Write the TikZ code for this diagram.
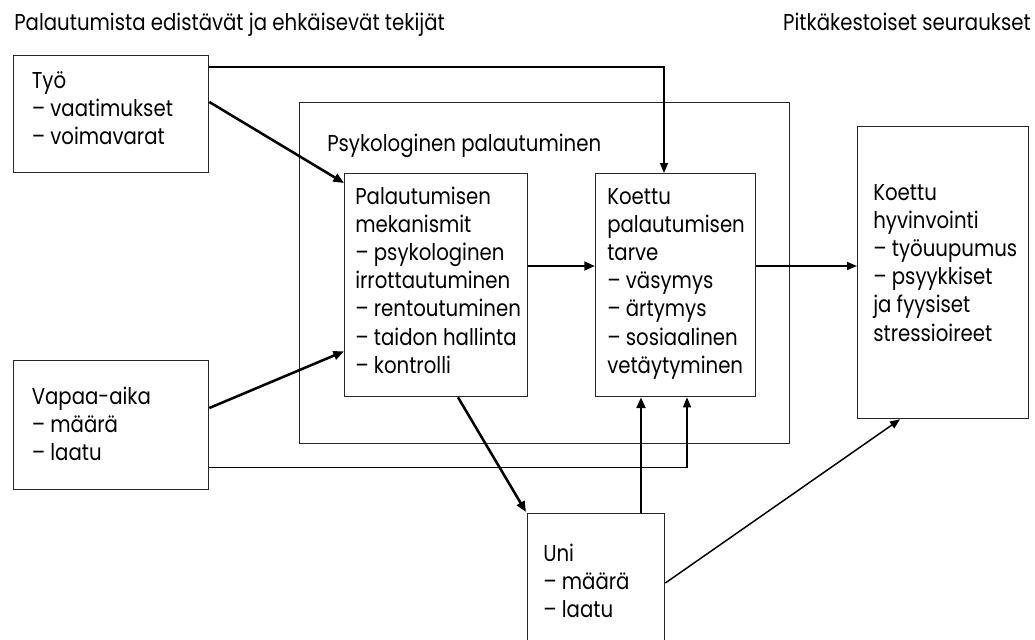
\documentclass[tikz,border=0pt]{standalone}
\usepackage{fontspec}
\setmainfont{Poppins}[FakeStretch=0.86]
\usetikzlibrary{arrows.meta,calc}
\tikzset{
  box/.style={draw=black!85, line width=1pt, inner sep=0pt, anchor=north west, fill=none},
  txt/.style={anchor=base west, inner sep=0pt, align=left},
  thinarrow/.style={draw=black, line width=1.1pt, -{Triangle[length=7.5pt,width=6pt]}},
  thickarrow/.style={draw=black, line width=1.9pt, -{Triangle[length=8pt,width=6.5pt]}},
}
\newcommand{\lns}[1]{\parbox[t]{6cm}{\raggedright #1}}
\begin{document}
\begin{tikzpicture}[x=0.75pt,y=-0.75pt,font=\fontsize{17.2pt}{21.15pt}\selectfont]
\clip (0,0) rectangle (1035,639);
\fill[white] (0,0) rectangle (1035,639);
% titles
\node[txt] (title1) at (14,30) {Palautumista edistävät ja ehkäisevät tekijät};
\node[txt, anchor=base east] (title2) at (1031,30) {Pitkäkestoiset seuraukset};
% boxes
\node[box, minimum width=490*0.75pt, minimum height=341*0.75pt] (outer) at (299,102) {};
\node[txt] (outerlbl) at (327,151.5) {Psykologinen palautuminen};
\node[box, minimum width=195*0.75pt, minimum height=117*0.75pt] (tyo) at (13,55) {};
\node[txt] (tyotxt) at (31.5,88) {\lns{Työ\\– vaatimukset\\– voimavarat}};
\node[box, minimum width=195*0.75pt, minimum height=129*0.75pt] (vapaa) at (13,360) {};
\node[txt] (vapaatxt) at (31.5,404) {\lns{Vapaa-aika\\– määrä\\– laatu}};
\node[box, minimum width=183*0.75pt, minimum height=223*0.75pt] (mech) at (344,173) {};
\node[txt] (mechtxt) at (355,204) {\lns{Palautumisen\\mekanismit\\– psykologinen\\irrottautuminen\\– rentoutuminen\\– taidon hallinta\\– kontrolli}};
\node[box, minimum width=160*0.75pt, minimum height=223*0.75pt] (koettu) at (595,173) {};
\node[txt] (koettutxt) at (607,204) {\lns{Koettu\\palautumisen\\tarve\\– väsymys\\– ärtymys\\– sosiaalinen\\vetäytyminen}};
\node[box, minimum width=171*0.75pt, minimum height=292*0.75pt] (hyv) at (857,126) {};
\node[txt] (hyvtxt) at (873,200) {\lns{Koettu\\hyvinvointi\\– työuupumus\\– psyykkiset\\ja fyysiset\\stressioireet}};
\node[box, minimum width=137*0.75pt, minimum height=140*0.75pt] (uni) at (527,513) {};
\node[txt] (unitxt) at (543,561) {\lns{Uni\\– määrä\\– laatu}};
% connectors
\draw[thinarrow] ($(tyo.north east)+(0,12)$) -| ($(koettu.north west)+(69,0)$);
\draw[thickarrow] ($(tyo.north east)+(0,47)$) -- ($(mech.north west)+(0,10)$);
\draw[thickarrow] ($(vapaa.north east)+(0,48)$) -- ($(mech.south west)+(0,-46)$);
\draw[thickarrow] ($(mech.north east)+(0,93)$) -- ($(koettu.north west)+(0,93)$);
\draw[thinarrow] ($(koettu.north east)+(0,93)$) -- ($(hyv.north west)+(0,140)$);
\draw[thickarrow] ($(mech.south west)+(114,0)$) -- ($(uni.north west)+(-1,-1)$);
\draw[thickarrow] ($(uni.north west)+(114,0)$) -- ($(koettu.south west)+(46,0)$);
\draw[thinarrow] ($(vapaa.south east)+(0,-23)$) -| ($(koettu.south west)+(92,0)$);
\draw[thinarrow] ($(uni.north east)+(0,70)$) -- ($(hyv.south west)+(43,0)$);
\end{tikzpicture}
\end{document}
